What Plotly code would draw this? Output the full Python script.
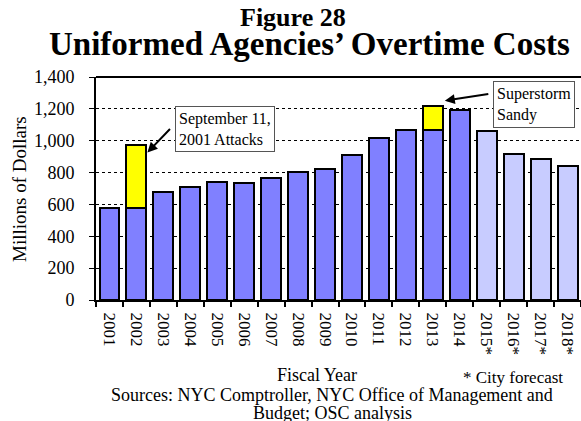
import plotly.graph_objects as go

# ---- data ----
years = ['2001', '2002', '2003', '2004', '2005', '2006', '2007', '2008', '2009',
         '2010', '2011', '2012', '2013', '2014', '2015*', '2016*', '2017*', '2018*']
regular_overtime = [575, 580, 680, 710, 740, 735, 765, 805, 825,
                    910, 1020, 1070, 1065, 1190, 1060, 915, 885, 840]
event_overtime = [None, 390, None, None, None, None, None, None, None,
                  None, None, None, 155, None, None, None, None, None]
is_forecast = [False] * 14 + [True] * 4
y_ticks = [0, 200, 400, 600, 800, 1000, 1200, 1400]

BLUE = '#8080FF'
LIGHT = '#C8CCFF'
YELLOW = '#FFFF00'
FONT = 'Liberation Serif'

W, H = 581, 421
L, R, T, B = 96, 0, 77, 121
PW, PH = W - L - R, H - T - B


def px2x(px):
    return (px - L) / PW


def px2y(py):
    return (H - B - py) / PH


fig = go.Figure()
fig.add_trace(go.Bar(
    x=years, y=regular_overtime,
    marker=dict(color=[LIGHT if f else BLUE for f in is_forecast],
                line=dict(color='black', width=2)),
    showlegend=False, hoverinfo='x+y'))
fig.add_trace(go.Bar(
    x=years, y=event_overtime,
    marker=dict(color=YELLOW, line=dict(color='black', width=2)),
    showlegend=False, hoverinfo='x+y'))

totals = [b + (e or 0) for b, e in zip(regular_overtime, event_overtime)]
i911 = years.index('2002')
isandy = years.index('2013')


def label(text, cx, cy, size, **kw):
    d = dict(text=text, x=px2x(cx), y=px2y(cy), xref='paper', yref='paper',
             showarrow=False, font=dict(family=FONT, size=size, color='black'),
             xanchor='center', yanchor='middle')
    d.update(kw)
    return d


annotations = [
    label('<b>Figure 28</b>', 293, 18, 26),
    label('<b>Uniformed Agencies’ Overtime Costs</b>', 309, 44, 33),
    label('Millions of Dollars', 19, 189, 19, textangle=-90),
    label('Fiscal Year', 317, 375, 18),
    label('* City forecast', 513, 377, 17),
    label('Sources: NYC Comptroller, NYC Office of Management and', 332, 395, 18),
    label('Budget; OSC analysis', 332, 413, 18),
    label('September 11,<br>2001 Attacks', 224.5, 128.5, 16, align='left', bgcolor='white',
          bordercolor='#555555', borderwidth=1, borderpad=3),
    label('Superstorm<br>Sandy', 534, 104.5, 16, align='left', bgcolor='white',
          bordercolor='#555555', borderwidth=1, borderpad=3),
    # arrows
    dict(text='', x=i911, y=totals[i911], xref='x', yref='y', xshift=11, yshift=-7,
         showarrow=True, ax=24, ay=-25, arrowhead=2, arrowsize=1, arrowwidth=2,
         arrowcolor='black'),
    dict(text='', x=isandy, y=totals[isandy], xref='x', yref='y', xshift=12, yshift=5,
         showarrow=True, ax=45, ay=-7, arrowhead=2, arrowsize=1, arrowwidth=2,
         arrowcolor='black'),
]

fig.update_layout(
    width=W, height=H,
    margin=dict(l=L, r=R, t=T, b=B, pad=0, autoexpand=False),
    paper_bgcolor='white', plot_bgcolor='white',
    barmode='stack', bargap=0.26,
    font=dict(family=FONT, size=17, color='black'),
    annotations=annotations,
    shapes=[dict(type='line', xref='paper', yref='paper', x0=0, x1=1, y0=1, y1=1,
                 line=dict(color='black', width=2))],
)
fig.update_xaxes(
    type='category', range=[-0.5, len(years) - 0.5], automargin=False,
    showline=True, linecolor='black', linewidth=2,
    ticks='outside', tickson='boundaries', ticklen=5, tickwidth=2, tickcolor='black',
    tickangle=90, tickfont=dict(family=FONT, size=17, color='black'),
    ticklabelstandoff=7,
    showgrid=False, zeroline=False, fixedrange=True,
)
fig.update_yaxes(
    range=[0, 1400], tickvals=y_ticks, tickformat=',d', automargin=False,
    showline=True, linecolor='black', linewidth=2,
    ticks='outside', ticklen=5, tickwidth=1, tickcolor='black', ticklabelstandoff=11,
    tickfont=dict(family=FONT, size=18, color='black'),
    showgrid=True, gridcolor='black', griddash='dot', gridwidth=1,
    zeroline=False, fixedrange=True,
)

fig.write_html('out.html', config={'displayModeBar': False},
               post_script="document.body.style.margin='0';document.body.style.padding='0';")
